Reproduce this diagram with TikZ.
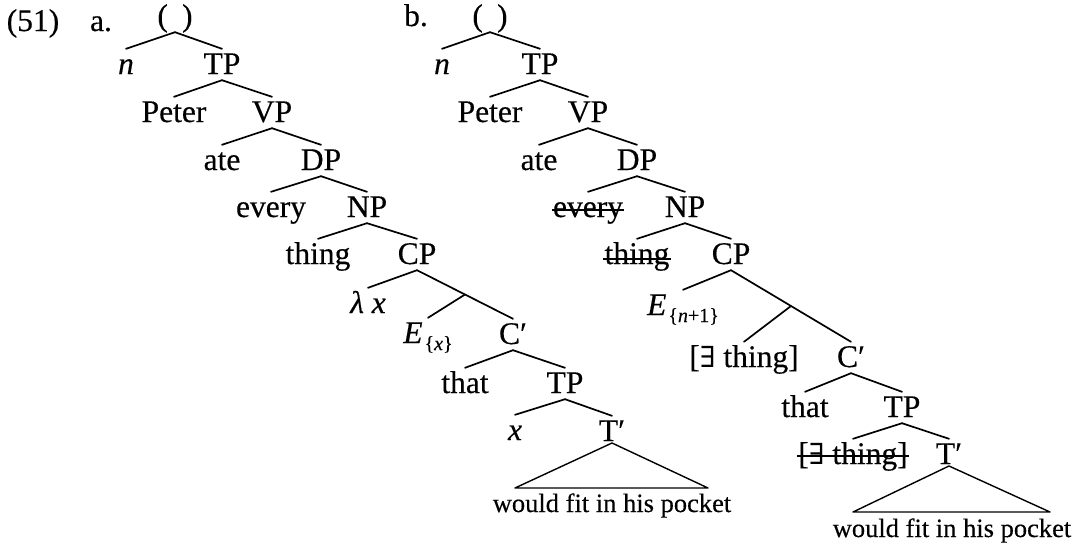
\documentclass[tikz,border=0pt]{standalone}
\usepackage{fontspec}
\setmainfont{Liberation Serif}[FakeBold=0.35]
\newfontfamily\djs{DejaVu Serif}
\newcommand{\exsym}{{\djs\fontsize{29}{32}\selectfont ∃}}
\newcommand{\subsc}[1]{\kern2pt\raisebox{-7pt}{\fontsize{20}{24}\selectfont #1}}
\begin{document}
\begin{tikzpicture}[x=1pt,y=-1pt,
  lab/.style={inner sep=0pt, text height=25pt, text depth=6pt, anchor=base, font=\fontsize{31.5}{36}\selectfont},
  small/.style={inner sep=0pt, anchor=base, font=\fontsize{26.5}{30}\selectfont},
  br/.style={line width=1.7pt, line cap=round},
  strike/.style={line width=1.7pt},
  tri/.style={line width=1.4pt, line join=round}]
\useasboundingbox (0,0) rectangle (1081,544);
% ---------- tree a ----------
\node[lab] (ex) at (33,31) {(51)};
\node[lab] (la) at (101,31) {a.};
\node[lab] (ra) at (175,26) {(\hspace{0.45em})};
\node[lab] (na) at (126,74) {\textit{n}};
\node[lab] (tpa) at (222,74) {TP};
\node[lab] (petera) at (174,122) {Peter};
\node[lab] (vpa) at (272,122) {VP};
\node[lab] (atea) at (222,170) {ate};
\node[lab] (dpa) at (321,170) {DP};
\node[lab] (everya) at (271,217) {every};
\node[lab] (npa) at (367,217) {NP};
\node[lab] (thinga) at (318,264) {thing};
\node[lab] (cpa) at (417,264) {CP};
\node[lab] (lama) at (368,313) {\textit{λ x}};
\node[lab] (ea) at (428,343) {\textit{E}\subsc{\{\textit{x}\}}};
\node[lab] (cba) at (513,344) {C′};
\node[lab] (thata) at (465,393) {that};
\node[lab] (tp2a) at (565,393) {TP};
\node[lab] (xa) at (515,440) {\textit{x}};
\node[lab] (tba) at (612,441) {T′};
\coordinate (trla) at (515,488);
\coordinate (trra) at (708,488);
\node[small] (wa) at (612,512) {would fit in his pocket};
\draw[br] (ra.south) -- (na.north);
\draw[br] (ra.south) -- (tpa.north);
\draw[br] (tpa.south) -- (petera.north);
\draw[br] (tpa.south) -- (vpa.north);
\draw[br] (vpa.south) -- (atea.north);
\draw[br] (vpa.south) -- (dpa.north);
\draw[br] (dpa.south) -- (everya.north);
\draw[br] (dpa.south) -- (npa.north);
\draw[br] (npa.south) -- (thinga.north);
\draw[br] (npa.south) -- (cpa.north);
\draw[br] (cpa.south) -- (lama.north);
\draw[br] (cpa.south) -- coordinate[pos=0.5] (mida) (cba.north);
\draw[br] (mida) -- (ea.north);
\draw[br] (cba.south) -- (thata.north);
\draw[br] (cba.south) -- (tp2a.north);
\draw[br] (tp2a.south) -- (xa.north);
\draw[br] (tp2a.south) -- (tba.north);
\draw[tri] ([yshift=-2pt]tba.base) -- (trla) -- (trra) -- cycle;
% ---------- tree b ----------
\node[lab] (lb) at (416,26) {b.};
\node[lab] (rb) at (490,26) {(\hspace{0.45em})};
\node[lab] (nb) at (442,74) {\textit{n}};
\node[lab] (tpb) at (540,74) {TP};
\node[lab] (peterb) at (490,122) {Peter};
\node[lab] (vpb) at (588,122) {VP};
\node[lab] (ateb) at (539,170) {ate};
\node[lab] (dpb) at (637,170) {DP};
\node[lab] (everyb) at (588,217) {every};
\node[lab] (npb) at (685,217) {NP};
\node[lab] (thingb) at (637,264) {thing};
\node[lab] (cpb) at (731,264) {CP};
\node[lab] (eb) at (683,315) {\textit{E}\subsc{\{\textit{n}+1\}}};
\node[lab] (exb) at (744,367) {[\exsym\ thing]};
\node[lab] (cbb) at (851,367) {C′};
\node[lab] (thatb) at (805,417) {that};
\node[lab] (tp2b) at (902,417) {TP};
\node[lab] (exsb) at (853,464) {[\exsym\ thing]};
\node[lab] (tbb) at (949,464) {T′};
\coordinate (trlb) at (853,512);
\coordinate (trrb) at (1050,512);
\node[small] (wb) at (952,537) {would fit in his pocket};
\draw[strike] ([yshift=7pt,xshift=-1pt]everyb.base west) -- ([yshift=7pt,xshift=1pt]everyb.base east);
\draw[strike] ([yshift=5pt,xshift=-1pt]thingb.base west) -- ([yshift=5pt,xshift=1pt]thingb.base east);
\draw[strike] ([yshift=8pt,xshift=-1pt]exsb.base west) -- ([yshift=8pt,xshift=1pt]exsb.base east);
\draw[br] (rb.south) -- (nb.north);
\draw[br] (rb.south) -- (tpb.north);
\draw[br] (tpb.south) -- (peterb.north);
\draw[br] (tpb.south) -- (vpb.north);
\draw[br] (vpb.south) -- (ateb.north);
\draw[br] (vpb.south) -- (dpb.north);
\draw[br] (dpb.south) -- (everyb.north);
\draw[br] (dpb.south) -- (npb.north);
\draw[br] (npb.south) -- (thingb.north);
\draw[br] (npb.south) -- (cpb.north);
\draw[br] (cpb.south) -- (eb.north);
\draw[br] (cpb.south) -- coordinate[pos=0.5] (midb) (cbb.north);
\draw[br] (midb) -- (exb.north);
\draw[br] (cbb.south) -- (thatb.north);
\draw[br] (cbb.south) -- (tp2b.north);
\draw[br] (tp2b.south) -- (exsb.north);
\draw[br] (tp2b.south) -- (tbb.north);
\draw[tri] ([yshift=-2pt]tbb.base) -- (trlb) -- (trrb) -- cycle;
\end{tikzpicture}
\end{document}
